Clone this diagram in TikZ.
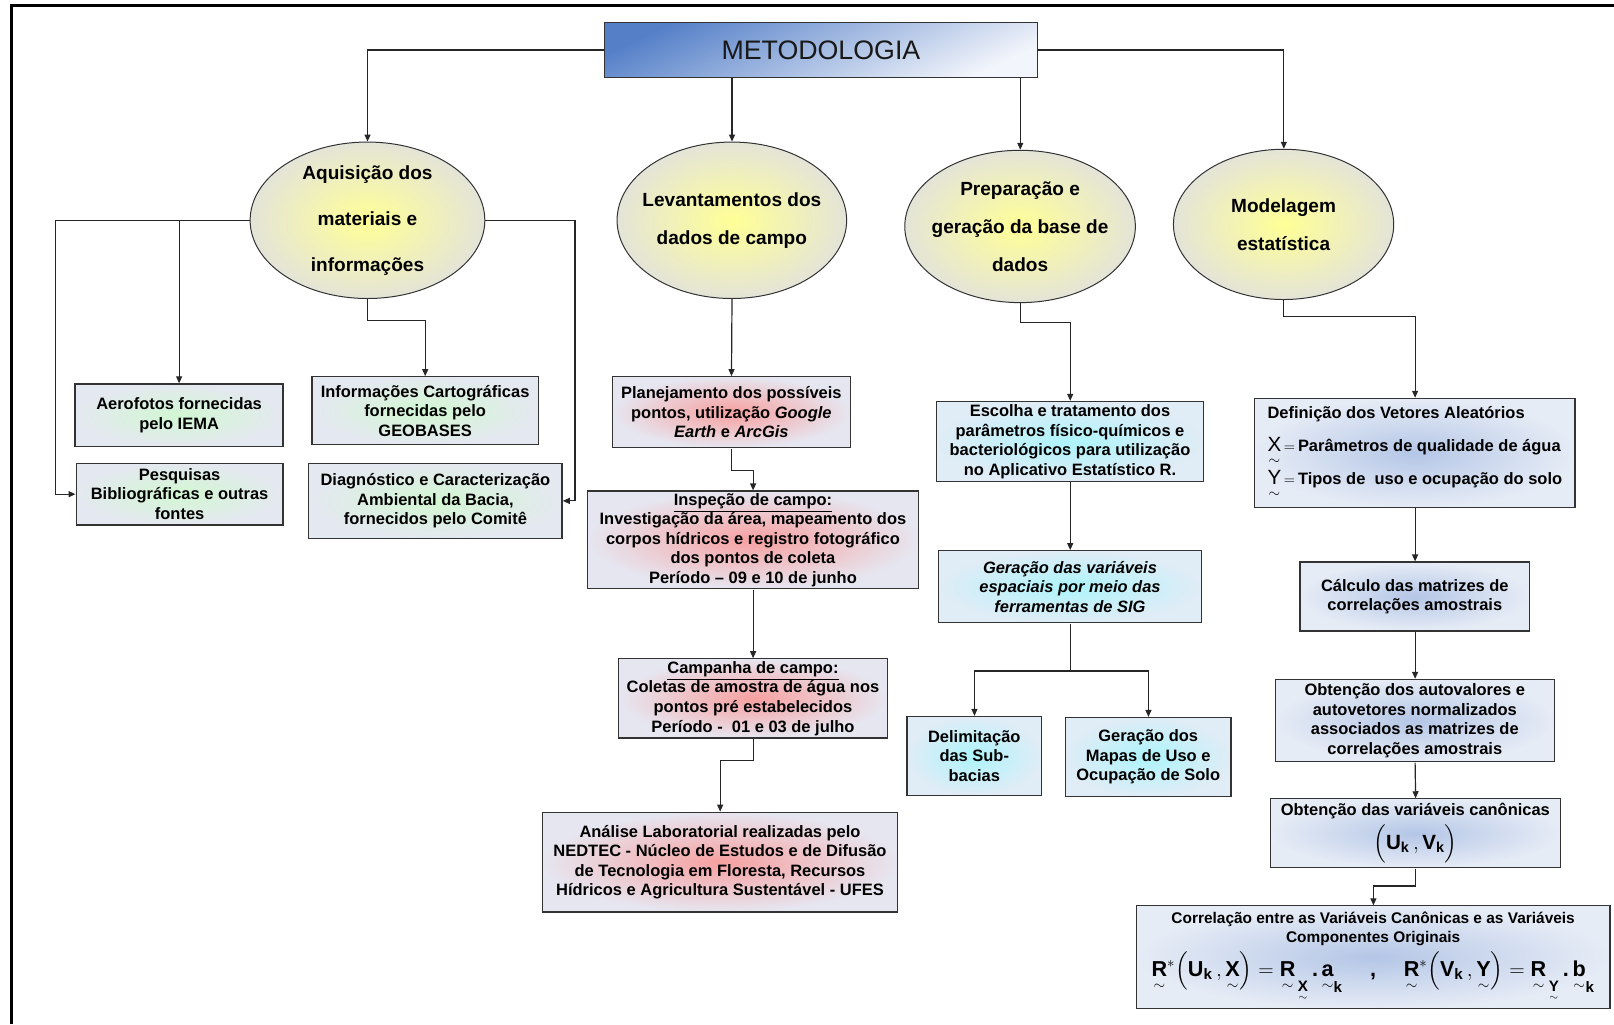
\documentclass[tikz,border=0pt]{standalone}
\usepackage{amsmath}
\usepackage{fontspec}
\setmainfont{Liberation Sans}
\usetikzlibrary{shapes.geometric,arrows.meta}

\definecolor{ovalin}{HTML}{FFFF96}
\definecolor{ovalout}{HTML}{E4E4D8}
\definecolor{grnin}{HTML}{D2F7D2}
\definecolor{grnout}{HTML}{E4E8F0}
\definecolor{redin}{HTML}{F7A0A0}
\definecolor{redout}{HTML}{E6E6F0}
\definecolor{cyanin}{HTML}{ADF4FC}
\definecolor{cyanout}{HTML}{E0ECF6}
\definecolor{bluein}{HTML}{B4C6E6}
\definecolor{blueout}{HTML}{E6ECF6}
\definecolor{metdark}{HTML}{5580C8}
\definecolor{metlight}{HTML}{F2F5FB}

\newcommand{\bx}{\fontsize{16}{19}\selectfont\bfseries}
\newcommand{\tl}[1]{\underset{\sim}{\textbf{#1}}}
\newcommand{\vecvar}[1]{{\fontsize{20}{20}\selectfont$\underset{\sim}{\textmd{#1}}$}\,{\fontsize{15}{15}\selectfont$=$}\,}

\begin{document}
\begin{tikzpicture}[x=1pt, y=-1pt, scale=1.0293, every node/.append style={transform shape},
  arr/.style={-{Triangle[length=7pt,width=6pt]}, line width=1.2pt, draw=black!85},
  lnk/.style={line width=1.2pt, draw=black!85},
  oval/.style={ellipse, draw=black!80, line width=1pt, inner color=ovalin, outer color=ovalout,
    inner xsep=-12pt, inner ysep=0pt, align=center, font=\fontsize{18.5}{37}\selectfont\bfseries},
  card/.style={rectangle, draw=black!80, line width=1.3pt, align=center, inner sep=1pt, font=\bx},
  greenbox/.style={card, inner color=grnin, outer color=grnout},
  redbox/.style={card, inner color=redin, outer color=redout},
  cyanbox/.style={card, inner color=cyanin, outer color=cyanout},
  bluebox/.style={card, inner color=bluein, outer color=blueout},
  metbox/.style={rectangle, draw=black!80, line width=1.3pt, top color=metdark, bottom color=metlight,
    shading angle=25, font=\fontsize{26}{30}\selectfont, text=black!90}]
\useasboundingbox (0,0) rectangle (1568,995);
\draw[line width=3pt] (11.5,995) -- (11.5,5.5) -- (1568,5.5);

% title and the four stages
\node[metbox, minimum width=421pt, minimum height=53pt] (met) at (797.5,48.5) {METODOLOGIA};
\node[oval, minimum width=228pt, minimum height=152pt, font=\fontsize{18.5}{44.5}\selectfont\bfseries]
  (aquis) at (357,214) {Aquisição dos\\materiais e\\informações};
\node[oval, minimum width=223pt, minimum height=152pt] (levant) at (711,214) {Levantamentos dos\\dados de campo};
\node[oval, minimum width=224pt, minimum height=148pt] (prep) at (991,220) {Preparação e\\geração da base de\\dados};
\node[oval, minimum width=214pt, minimum height=146pt] (model) at (1247,218) {Modelagem\\estatística};

% aquisicao
\node[greenbox, minimum width=202pt, minimum height=61pt] (aero) at (174,403.5) {Aerofotos fornecidas\\pelo IEMA};
\node[greenbox, minimum width=201pt, minimum height=60pt] (pesq) at (174.5,480) {Pesquisas\\Bibliográficas e outras\\fontes};
\node[greenbox, minimum width=220pt, minimum height=66pt] (cart) at (413,399) {Informações Cartográficas\\fornecidas pelo\\GEOBASES};
\node[greenbox, minimum width=246pt, minimum height=73pt] (diag) at (423,486.5) {Diagnóstico e Caracterização\\Ambiental da Bacia,\\fornecidos pelo Comitê};

% levantamentos
\node[redbox, minimum width=231pt, minimum height=69pt] (plan) at (710.5,400.5)
  {Planejamento dos possíveis\\pontos, utilização \textit{Google}\\\textit{Earth} e \textit{ArcGis}};
\node[redbox, minimum width=321pt, minimum height=95pt] (insp) at (731.5,524.5)
  {\underline{Inspeção de campo:}\\Investigação da área, mapeamento dos\\corpos hídricos e registro fotográfico\\dos pontos de coleta\\Período – 09 e 10 de junho};
\node[redbox, minimum width=261pt, minimum height=77pt] (camp) at (731.5,678.5)
  {\underline{Campanha de campo:}\\Coletas de amostra de água nos\\pontos pré estabelecidos\\Período -\ \ 01 e 03 de julho};
\node[redbox, minimum width=345pt, minimum height=97pt] (anal) at (699.5,837.5)
  {Análise Laboratorial realizadas pelo\\NEDTEC - Núcleo de Estudos e de Difusão\\de Tecnologia em Floresta, Recursos\\Hídricos e Agricultura Sustentável - UFES};

% base de dados
\node[cyanbox, minimum width=259pt, minimum height=78pt] (esc) at (1039.5,429)
  {Escolha e tratamento dos\\parâmetros físico-químicos e\\bacteriológicos para utilização\\no Aplicativo Estatístico R.};
\node[cyanbox, minimum width=255pt, minimum height=70pt, font={\bx\itshape}] (gsig) at (1039.5,570)
  {Geração das variáveis\\espaciais por meio das\\ferramentas de SIG};
\node[cyanbox, minimum width=131pt, minimum height=77pt] (delim) at (946.5,734.5) {Delimitação\\das Sub-\\bacias};
\node[cyanbox, minimum width=161pt, minimum height=77pt] (mapas) at (1115.5,735.5) {Geração dos\\Mapas de Uso e\\Ocupação de Solo};

% modelagem
\node[bluebox, minimum width=311pt, minimum height=106pt, align=left,
  font=\fontsize{16}{32}\selectfont\bfseries] (defi) at (1374.5,440)
  {Definição dos Vetores Aleatórios\\
   \vecvar{X}Parâmetros de qualidade de água\\
   \vecvar{Y}Tipos de\ \ uso e ocupação do solo};
\node[bluebox, minimum width=223pt, minimum height=67pt] (calc) at (1374.5,579.5) {Cálculo das matrizes de\\correlações amostrais};
\node[bluebox, minimum width=271pt, minimum height=80pt] (autov) at (1374.5,700)
  {Obtenção dos autovalores e\\autovetores normalizados\\associados as matrizes de\\correlações amostrais};
\node[bluebox, minimum width=282pt, minimum height=67pt] (canon) at (1375,809.5)
  {Obtenção das variáveis canônicas\\[5pt]
   {\fontsize{20}{20}\selectfont$\Big(\textbf{U}_{\textbf{k}}\,,\textbf{V}_{\textbf{k}}\Big)$}};
\node[bluebox, minimum width=460pt, minimum height=100pt, font=\fontsize{15}{18}\selectfont\bfseries] (correl) at (1334,930)
  {Correlação entre as Variáveis Canônicas e as Variáveis\\Componentes Originais\\[5pt]
   {\fontsize{21}{24}\selectfont
   $\tl{R}^{*}\Big(\textbf{U}_{\textbf{k}}\,,\tl{X}\Big)=\tl{R}_{\,\tl{X}}\,\textbf{.}\,\tl{a}_{\textbf{k}}$\quad\ ,\quad\
   $\tl{R}^{*}\Big(\textbf{V}_{\textbf{k}}\,,\tl{Y}\Big)=\tl{R}_{\,\tl{Y}}\,\textbf{.}\,\tl{b}_{\textbf{k}}$}};

% connectors
\draw[arr] (met.west) -| (aquis.north);
\draw[arr] (levant.north |- met.south) -- (levant.north);
\draw[arr] (prep.north |- met.south) -- (prep.north);
\draw[arr] (met.east) -| (model.north);

\draw[arr] (aquis.west) -- ++(-189,0) |- (pesq.west);
\draw[arr] (aero.north |- aquis.west) -- (aero.north);
\draw[arr] (aquis.east) -- ++(87,0) |- (diag.east);
\draw[arr] (aquis.south) -- ++(0,21) -| (cart.north);

\draw[arr] (levant.south) -- (plan.north);
\draw[arr] (plan.south) -- ++(0,21) -| (insp.north);
\draw[arr] (insp.south) -- (camp.north);
\draw[arr] (camp.south) -- ++(0,21) -| (anal.north);

\draw[arr] (prep.south) -- ++(0,19) -| (esc.north);
\draw[arr] (esc.south) -- (gsig.north);
\draw[lnk] (gsig.south) -- ++(0,46) coordinate (fork);
\draw[arr] (fork) -| (delim.north);
\draw[arr] (fork) -| (mapas.north);

\draw[arr] (model.south) -- ++(0,16) -| (defi.north);
\draw[arr] (defi.south) -- (calc.north);
\draw[arr] (calc.south) -- (autov.north);
\draw[arr] (autov.south) -- (canon.north);
\draw[arr] (canon.south) -- ++(0,17) -| (correl.north);
\end{tikzpicture}
\end{document}
